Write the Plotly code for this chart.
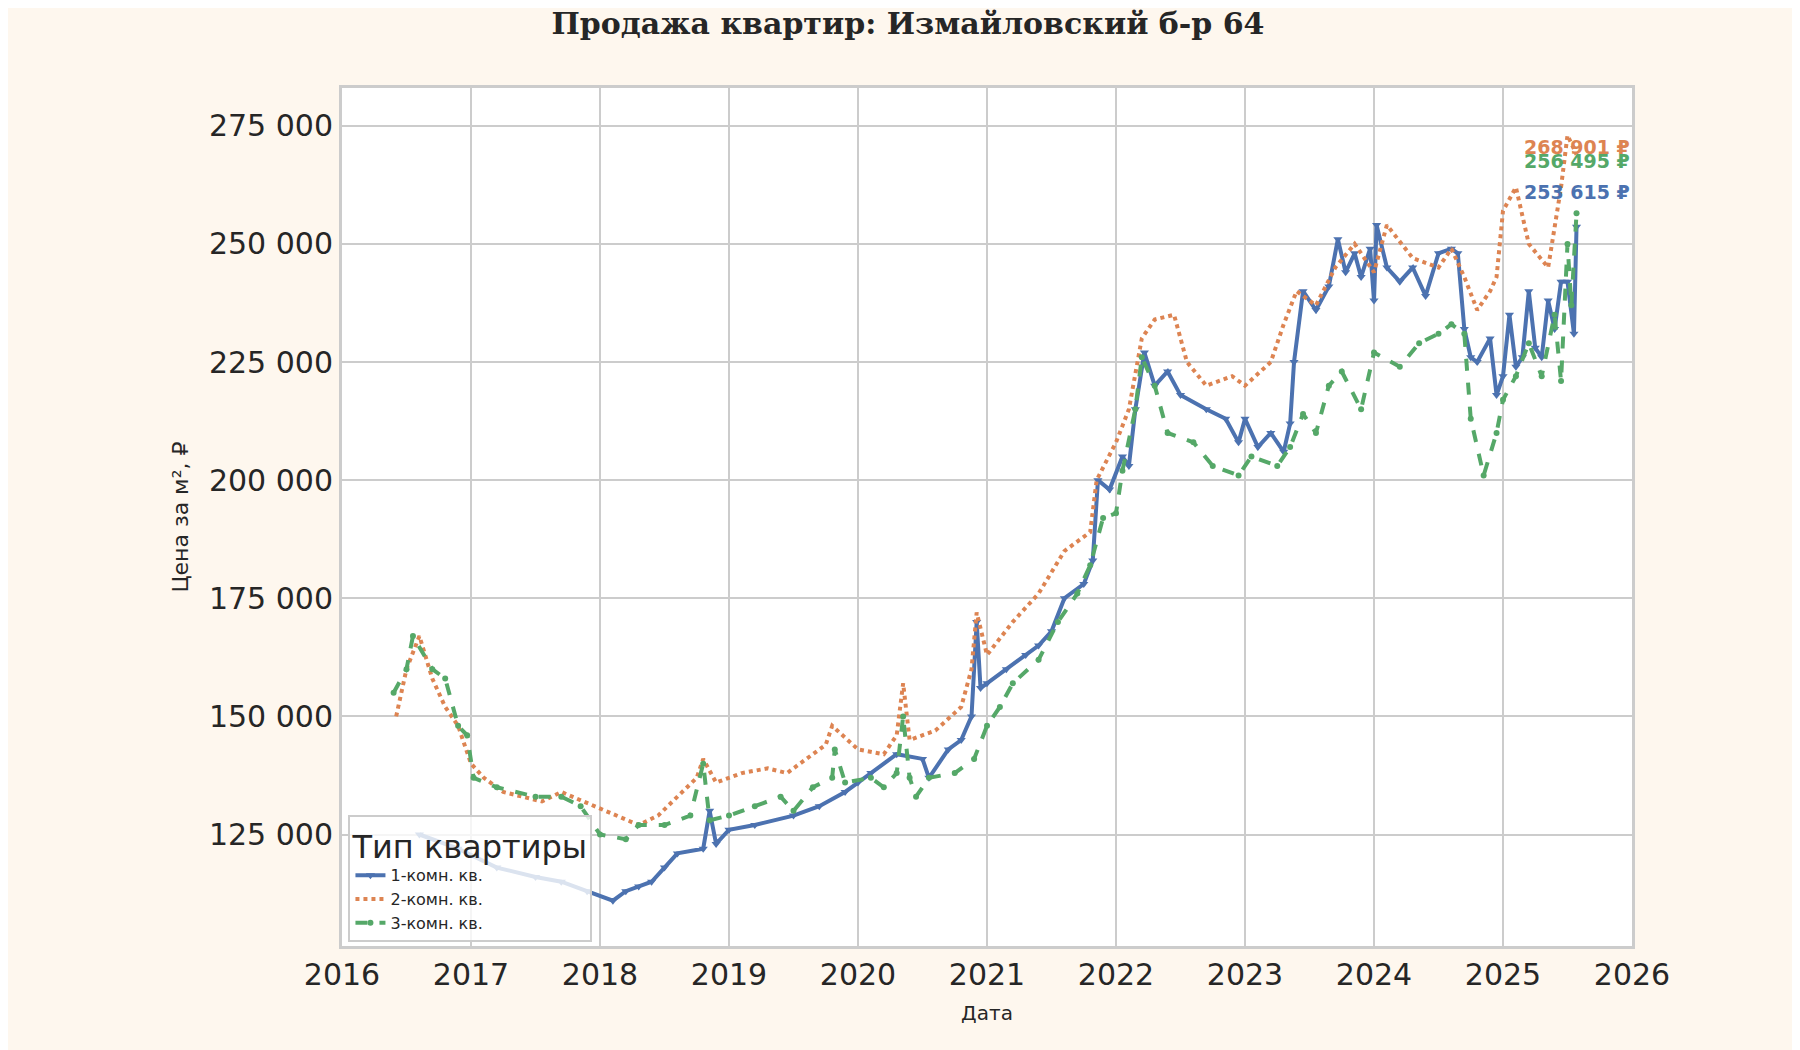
import plotly.graph_objects as go

# fractional years and price per m2
x1 = [2016.6, 2016.9, 2017.2, 2017.5, 2017.7, 2017.9, 2018.1, 2018.2, 2018.3, 2018.4, 2018.5, 2018.6,
      2018.8, 2018.85, 2018.9, 2019.0, 2019.2, 2019.5, 2019.7, 2019.9, 2020.0, 2020.1, 2020.3, 2020.5,
      2020.55, 2020.7, 2020.8, 2020.88, 2020.92, 2020.95, 2021.0, 2021.15, 2021.3, 2021.4, 2021.5,
      2021.6, 2021.75, 2021.82, 2021.86, 2021.95, 2022.05, 2022.1, 2022.15, 2022.22, 2022.3, 2022.4,
      2022.5, 2022.7, 2022.85, 2022.95, 2023.0, 2023.1, 2023.2, 2023.3, 2023.35, 2023.38, 2023.45,
      2023.55, 2023.65, 2023.72, 2023.78, 2023.85, 2023.9, 2023.97, 2024.0, 2024.02, 2024.1, 2024.2,
      2024.3, 2024.4, 2024.5, 2024.6, 2024.65, 2024.7, 2024.75, 2024.8, 2024.9, 2024.95, 2025.0,
      2025.05, 2025.1, 2025.15, 2025.2, 2025.25, 2025.3, 2025.35, 2025.4, 2025.45, 2025.5, 2025.55, 2025.57]
y1 = [125000, 122000, 118000, 116000, 115000, 113000, 111000, 113000, 114000, 115000, 118000, 121000,
      122000, 130000, 123000, 126000, 127000, 129000, 131000, 134000, 136000, 138000, 142000, 141000,
      137000, 143000, 145000, 150000, 170000, 156000, 157000, 160000, 163000, 165000, 168000,
      175000, 178000, 183000, 200000, 198000, 205000, 203000, 215000, 227000, 220000, 223000,
      218000, 215000, 213000, 208000, 213000, 207000, 210000, 206000, 212000, 225000, 240000,
      236000, 241000, 251000, 244000, 248000, 243000, 249000, 238000, 254000, 245000, 242000,
      245000, 239000, 248000, 249000, 248000, 232000, 226000, 225000, 230000, 218000, 222000,
      235000, 224000, 226000, 240000, 228000, 226000, 238000, 232000, 242000, 242000, 231000, 253615]

x2 = [2016.42, 2016.5, 2016.6, 2016.7, 2016.8, 2016.9, 2017.0, 2017.1, 2017.25, 2017.4, 2017.55, 2017.7,
      2018.3, 2018.45, 2018.6, 2018.75, 2018.8, 2018.9, 2019.1, 2019.3, 2019.45, 2019.6, 2019.75, 2019.8,
      2020.0, 2020.2, 2020.3, 2020.35, 2020.4, 2020.6, 2020.8, 2020.88, 2020.92, 2021.0, 2021.2,
      2021.4, 2021.6, 2021.8, 2021.85, 2022.0, 2022.1, 2022.2, 2022.3, 2022.45, 2022.55, 2022.7,
      2022.9, 2023.0, 2023.2, 2023.3, 2023.4, 2023.55, 2023.7, 2023.85, 2024.0, 2024.1, 2024.3,
      2024.5, 2024.6, 2024.7, 2024.8, 2024.9, 2024.95, 2025.0, 2025.1, 2025.2, 2025.35, 2025.45,
      2025.5, 2025.57]
y2 = [150000, 160000, 167000, 158000, 152000, 148000, 140000, 137000, 134000, 133000, 132000, 134000,
      127000, 129000, 133000, 137000, 141000, 136000, 138000, 139000, 138000, 141000, 144000, 148000,
      143000, 142000, 146000, 157000, 145000, 147000, 152000, 160000, 172000, 163000, 170000,
      176000, 185000, 189000, 200000, 208000, 215000, 230000, 234000, 235000, 225000, 220000,
      222000, 220000, 225000, 233000, 240000, 237000, 245000, 250000, 244000, 254000, 247000,
      245000, 249000, 243000, 236000, 240000, 243000, 257000, 262000, 250000, 245000, 262000,
      273000, 268901]

x3 = [2016.4, 2016.5, 2016.55, 2016.7, 2016.8, 2016.9, 2016.97, 2017.02, 2017.2, 2017.5, 2017.7, 2017.85,
      2018.0, 2018.2, 2018.3, 2018.5, 2018.7, 2018.8, 2018.85, 2019.0, 2019.2, 2019.4, 2019.5, 2019.65,
      2019.8, 2019.82, 2019.9, 2020.1, 2020.2, 2020.3, 2020.35, 2020.4, 2020.45, 2020.55, 2020.75,
      2020.9, 2021.0, 2021.1, 2021.2, 2021.4, 2021.55, 2021.7, 2021.8, 2021.9, 2022.0, 2022.05,
      2022.15, 2022.2, 2022.3, 2022.4, 2022.6, 2022.75, 2022.95, 2023.05, 2023.25, 2023.35, 2023.45,
      2023.55, 2023.65, 2023.75, 2023.9, 2024.0, 2024.2, 2024.35, 2024.5, 2024.6, 2024.7, 2024.75,
      2024.85, 2024.95, 2025.0, 2025.1, 2025.2, 2025.3, 2025.4, 2025.45, 2025.5, 2025.53, 2025.57]
y3 = [155000, 160000, 167000, 160000, 158000, 148000, 146000, 137000, 135000, 133000, 133000, 131000,
      125000, 124000, 127000, 127000, 129000, 140000, 128000, 129000, 131000, 133000, 130000, 135000,
      137000, 143000, 136000, 137000, 135000, 138000, 150000, 137000, 133000, 137000, 138000,
      141000, 148000, 152000, 157000, 162000, 170000, 176000, 182000, 192000, 193000, 202000,
      215000, 226000, 220000, 210000, 208000, 203000, 201000, 205000, 203000, 207000, 214000,
      210000, 220000, 223000, 215000, 227000, 224000, 229000, 231000, 233000, 231000, 213000,
      201000, 210000, 217000, 222000, 229000, 222000, 235000, 221000, 250000, 237000, 256495]

series_names = ["1-комн. кв.", "2-комн. кв.", "3-комн. кв."]
colors = ["#4c72b0", "#dd8452", "#55a868"]
years = list(range(2016, 2027))
yticks = [125000, 150000, 175000, 200000, 225000, 250000, 275000]

fig = go.Figure()
fig.add_trace(go.Scatter(x=x1, y=y1, name=series_names[0], mode="lines+markers",
                         line=dict(color=colors[0], width=4),
                         marker=dict(symbol="triangle-down", size=8, color=colors[0])))
fig.add_trace(go.Scatter(x=x2, y=y2, name=series_names[1], mode="lines",
                         line=dict(color=colors[1], width=4, dash="dot")))
fig.add_trace(go.Scatter(x=x3, y=y3, name=series_names[2], mode="lines+markers",
                         line=dict(color=colors[2], width=4, dash="dash"),
                         marker=dict(symbol="circle", size=6, color=colors[2])))

last_vals = [y1[-1], y2[-1], y3[-1]]
shifts = [35, 8, 52]
for v, c, s in zip(last_vals, colors, shifts):
    fig.add_annotation(x=2026, y=v, yshift=s, xanchor="right", showarrow=False,
                       text=f"{v:,}".replace(",", " ") + " ₽",
                       font=dict(family="DejaVu Sans", size=19, color=c, weight="bold"))

fig.update_layout(
    width=1800, height=1050,
    paper_bgcolor="#fef7ee", plot_bgcolor="white",
    margin=dict(l=334, r=176, t=80, b=112),
    title=dict(text="<b>Продажа квартир: Измайловский б-р 64</b>", x=0.5, xanchor="center",
               y=0.995, yanchor="top",
               font=dict(family="DejaVu Serif", size=30, color="#262626")),
    font=dict(family="DejaVu Sans", color="#262626"),
    xaxis=dict(range=[2016, 2026], tickvals=years, ticktext=[str(y) for y in years],
               showgrid=True, gridcolor="#cccccc", gridwidth=2, zeroline=False,
               showline=True, linecolor="#cccccc", linewidth=3, mirror=True,
               tickfont=dict(size=30), title=dict(text="Дата", font=dict(size=20))),
    yaxis=dict(range=[101400, 283000], tickvals=yticks,
               ticktext=[f"{v:,}".replace(",", " ") for v in yticks],
               showgrid=True, gridcolor="#cccccc", gridwidth=2, zeroline=False,
               showline=True, linecolor="#cccccc", linewidth=3, mirror=True,
               tickfont=dict(size=30), title=dict(text="Цена за м², ₽", font=dict(size=22))),
    legend=dict(x=0.005, y=0.005, xanchor="left", yanchor="bottom",
                bgcolor="rgba(255,255,255,0.8)", bordercolor="#cccccc", borderwidth=2,
                title=dict(text="Тип квартиры", font=dict(size=32)),
                font=dict(size=16)),
)

fig.write_html("out.html")
